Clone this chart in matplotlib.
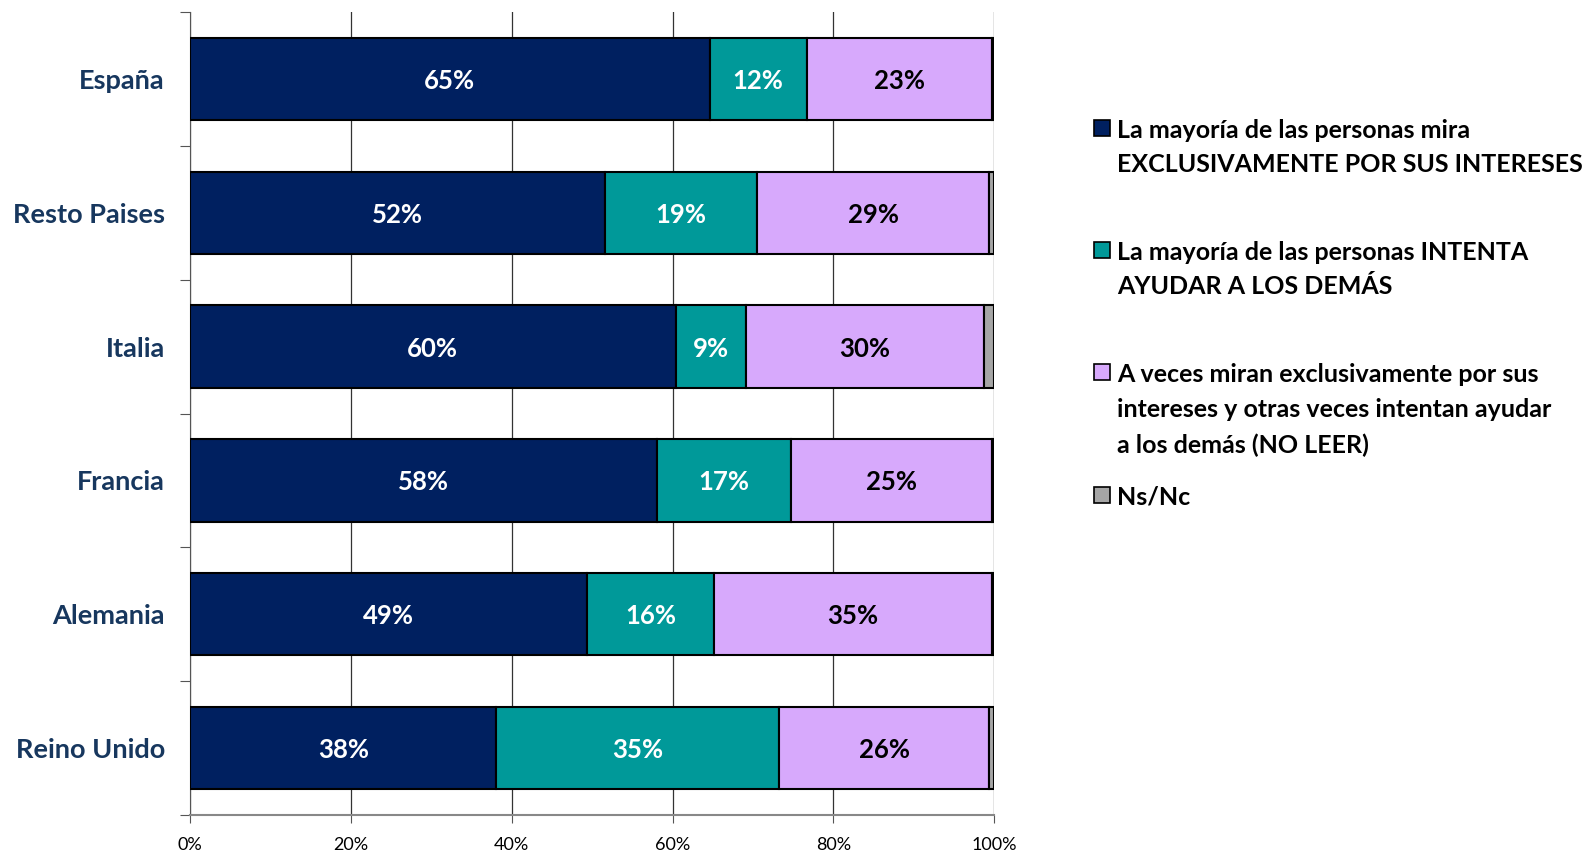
import numpy as np
import matplotlib.pyplot as plt
from matplotlib.patches import Rectangle

plt.rcParams['font.family'] = ['Lato', 'DejaVu Sans']

countries = ["España", "Resto Paises", "Italia", "Francia", "Alemania", "Reino Unido"]
series_names = [
    "La mayoría de las personas mira\nEXCLUSIVAMENTE POR SUS INTERESES",
    "La mayoría de las personas INTENTA\nAYUDAR A LOS DEMÁS",
    "A veces miran exclusivamente por sus\nintereses y otras veces intentan ayudar\na los demás (NO LEER)",
    "Ns/Nc",
]
exclusivamente = [64.6, 51.6, 60.4, 58.1, 49.4, 38.1]
intenta = [12.1, 18.9, 8.7, 16.6, 15.7, 35.1]
a_veces = [23.0, 28.9, 29.6, 25.0, 34.6, 26.2]
ns_nc = [0.3, 0.6, 1.3, 0.3, 0.3, 0.6]

colors = ["#002060", "#009999", "#D7A9FC", "#A6A6A6"]
label_colors = ["white", "white", "black", None]
BOLD = "bold"

fig = plt.figure(figsize=(15.96, 8.52), dpi=100)
ax = fig.add_axes([0.119, 0.0434, 0.504, 0.9425])

y = np.arange(len(countries))
left = np.zeros(len(countries))
for vals, col, lc in zip([exclusivamente, intenta, a_veces, ns_nc], colors, label_colors):
    vals = np.array(vals)
    ax.barh(y, vals, left=left, height=0.615, color=col, edgecolor="black",
            linewidth=1.5, zorder=3)
    if lc is not None:
        for yi, l, v in zip(y, left, vals):
            ax.text(l + v / 2, yi, f"{round(v):.0f}%", ha="center", va="center_baseline",
                    color=lc, fontsize=18.5, fontweight=BOLD, zorder=4)
    left += vals

ax.set_xlim(0, 100)
ax.set_ylim(len(countries) - 0.5, -0.5)
ax.set_xticks(np.arange(0, 101, 20))
ax.set_xticklabels([f"{t}%" for t in range(0, 101, 20)], fontsize=13)
ax.xaxis.grid(True, color="#333333", linewidth=0.9, zorder=0)
ax.set_axisbelow(True)

ax.set_yticks(np.arange(-0.5, len(countries), 1.0))
ax.set_yticklabels([])
ax.set_yticks(y, minor=True)
ax.set_yticklabels(countries, minor=True, fontsize=19.5, fontweight=BOLD, color="#17375E")
ax.tick_params(axis="y", which="minor", length=0, pad=18)
ax.tick_params(axis="y", which="major", length=7, color="#555555")
ax.tick_params(axis="x", length=6, color="#555555", pad=10)

for s in ["top", "right"]:
    ax.spines[s].set_visible(False)
ax.spines["left"].set_color("#555555")
ax.spines["bottom"].set_color("#888888")
ax.spines["bottom"].set_linewidth(1.5)

# legend
W, H = 1596.0, 852.0
items = [(128, 163), (250, 285), (372, 407, 443), (495,)]
for col, name, ys in zip(colors, series_names, items):
    sq = 16
    fig.patches.append(Rectangle((1094 / W, 1 - (ys[0] + sq / 2) / H), sq / W, sq / H,
                                 transform=fig.transFigure, facecolor=col,
                                 edgecolor="black", linewidth=1.2))
    for line, yy in zip(name.split("\n"), ys):
        fig.text(1117 / W, 1 - yy / H, line, ha="left", va="center_baseline",
                 fontsize=18, fontweight=BOLD, color="black")

fig.savefig("out.png", dpi=100)
